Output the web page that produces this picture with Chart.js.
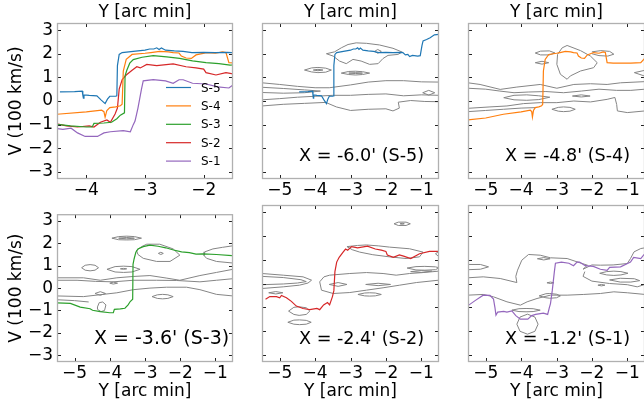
<!DOCTYPE html>
<html>
<head>
<meta charset="utf-8">
<script src="https://cdn.jsdelivr.net/npm/chart.js@4"></script>
<style>
  body { margin: 0; background: #fff; width: 644px; height: 406px; overflow: hidden; position: relative; }
  .cell { position: absolute; }
</style>
</head>
<body>
<script>
// ---- data: [Y (arc min), V (100 km/s)] ----
const seriesNames = ['S-5', 'S-4', 'S-3', 'S-2', 'S-1'];
const seriesColors = ['#1f77b4', '#ff7f0e', '#2ca02c', '#d62728', '#9467bd'];
const xTicksWide = [-5, -4, -3, -2, -1];
const xTicksZoom = [-4, -3, -2];
const yTicks = [-3, -2, -1, 0, 1, 2, 3];

const S5 = [[-4.45,0.39],[-4.2,0.4],[-4.07,0.42],[-4.06,0.25],[-4.05,0.12],[-4.04,0.26],[-3.95,0.24],[-3.82,0.22],[-3.75,0.05],[-3.68,-0.11],[-3.64,0.08],[-3.6,0.2],[-3.5,0.2],[-3.48,0.22],[-3.47,1.5],[-3.44,1.97],[-3.39,2.05],[-3.2,2.1],[-3.0,2.15],[-2.92,2.2],[-2.85,2.2],[-2.8,2.25],[-2.76,2.18],[-2.72,2.24],[-2.65,2.15],[-2.5,2.12],[-2.35,2.1],[-2.2,2.05],[-2.0,2.06],[-1.8,2.05],[-1.6,2.06],[-1.52,2.05],[-1.45,1.95],[-1.38,1.97],[-1.33,1.88],[-1.25,1.93],[-1.1,1.9],[-1.03,1.92],[-0.98,2.35],[-0.95,2.54],[-0.85,2.6],[-0.75,2.68],[-0.63,2.8],[-0.5,2.82]];
const S4 = [[-5.51,-0.8],[-5.0,-0.72],[-4.5,-0.56],[-4.0,-0.46],[-3.74,-0.39],[-3.7,-0.45],[-3.68,-0.68],[-3.65,-0.4],[-3.6,-0.28],[-3.5,-0.25],[-3.42,-0.2],[-3.39,-0.14],[-3.37,1.27],[-3.32,1.76],[-3.22,1.97],[-3.0,2.02],[-2.9,2.05],[-2.75,2.1],[-2.6,2.08],[-2.52,2.05],[-2.42,2.03],[-2.38,1.9],[-2.3,1.82],[-2.21,1.8],[-2.13,1.95],[-1.95,2.05],[-1.8,2.02],[-1.68,2.08],[-1.62,2.05],[-1.57,1.62],[-1.4,1.6],[-1.19,1.6],[-0.9,1.6],[-0.62,1.62],[-0.51,1.8]];
const S3 = [[-5.5,-0.66],[-5.12,-0.68],[-4.84,-0.85],[-4.56,-0.92],[-4.49,-0.99],[-4.27,-1.05],[-4.0,-1.1],[-3.9,-1.1],[-3.87,-0.95],[-3.7,-0.93],[-3.57,-0.9],[-3.48,-0.75],[-3.42,-0.6],[-3.35,-0.5],[-3.34,1.06],[-3.31,1.3],[-3.26,1.6],[-3.2,1.75],[-3.05,1.85],[-2.86,1.92],[-2.63,1.87],[-2.41,1.8],[-2.19,1.7],[-1.96,1.62],[-1.74,1.58],[-1.55,1.52],[-1.35,1.53],[-0.97,1.5],[-0.53,1.45]];
const S2 = [[-5.4,-0.66],[-5.28,-0.55],[-5.09,-0.55],[-5.0,-0.6],[-4.95,-0.5],[-4.81,-0.6],[-4.67,-0.75],[-4.53,-0.95],[-4.34,-1.05],[-4.15,-1.1],[-3.95,-1.05],[-3.87,-1.1],[-3.76,-0.9],[-3.65,-0.8],[-3.59,-0.9],[-3.51,-0.55],[-3.47,-0.3],[-3.44,0.5],[-3.39,0.9],[-3.32,1.1],[-3.22,1.3],[-3.14,1.45],[-3.08,1.4],[-2.97,1.55],[-2.8,1.5],[-2.52,1.57],[-2.3,1.45],[-2.13,1.4],[-2.0,1.35],[-1.96,1.2],[-1.79,1.1],[-1.62,1.2],[-1.5,1.15],[-1.3,1.05],[-1.05,1.25],[-0.77,1.35],[-0.51,1.35]];
const S1 = [[-5.51,-0.94],[-5.3,-0.72],[-5.07,-0.49],[-4.88,-0.5],[-4.78,-0.65],[-4.74,-1.0],[-4.71,-1.33],[-4.66,-1.2],[-4.49,-1.17],[-4.4,-1.2],[-4.26,-1.15],[-4.15,-1.35],[-4.02,-1.5],[-3.81,-1.5],[-3.7,-1.35],[-3.59,-1.3],[-3.37,-1.25],[-3.25,-1.3],[-3.2,-1.0],[-3.17,-0.85],[-3.12,-0.3],[-3.06,0.5],[-3.03,0.85],[-2.86,0.9],[-2.65,0.85],[-2.52,0.75],[-2.42,0.9],[-2.35,0.9],[-2.19,0.75],[-1.96,0.72],[-1.76,0.6],[-1.57,0.55],[-1.5,0.68],[-1.19,0.7],[-0.91,0.9],[-0.82,1.1],[-0.62,1.05],[-0.51,1.25]];

// gray contour lines behind each cut
const contoursS5 = [
  [[-3.68,2.0],[-3.45,2.08],[-3.26,2.25],[-3.07,2.39],[-2.84,2.46],[-2.55,2.44],[-2.18,2.37],[-1.8,2.23],[-1.54,2.07],[-1.66,1.97],[-1.94,1.93],[-2.08,1.8],[-2.22,1.58],[-2.46,1.55],[-2.7,1.69],[-2.93,1.76],[-3.12,1.58],[-3.31,1.69],[-3.49,1.9],[-3.68,2.0]],
  [[-2.32,2.1],[-2.23,2.18],[-2.13,2.1],[-2.23,2.02],[-2.32,2.1]],
  [[-4.3,1.31],[-4.1,1.4],[-3.92,1.42],[-3.7,1.39],[-3.54,1.31],[-3.7,1.22],[-3.92,1.2],[-4.1,1.23],[-4.3,1.31]],
  [[-4.05,1.31],[-3.92,1.34],[-3.78,1.31],[-3.92,1.28],[-4.05,1.31]],
  [[-3.26,1.18],[-3.05,1.25],[-2.86,1.26],[-2.66,1.24],[-2.46,1.18],[-2.66,1.12],[-2.86,1.1],[-3.05,1.12],[-3.26,1.18]],
  [[-3.05,1.18],[-2.86,1.2],[-2.66,1.18],[-2.86,1.16],[-3.05,1.18]],
  [[-5.5,0.77],[-5.0,0.7],[-4.5,0.62],[-4.0,0.56],[-3.6,0.56],[-3.0,0.68],[-2.5,0.8],[-2.0,0.86],[-1.5,0.86],[-1.0,0.81],[-0.5,0.8]],
  [[-5.5,0.58],[-4.9,0.53],[-4.3,0.47],[-3.85,0.42],[-4.3,0.35],[-4.9,0.33],[-5.5,0.36]],
  [[-5.5,0.05],[-5.0,0.1],[-4.5,0.16],[-4.0,0.2],[-3.5,0.24],[-3.0,0.24],[-2.5,0.28],[-2.0,0.3],[-1.5,0.22],[-1.0,0.26],[-0.5,0.24]],
  [[-5.5,-0.21],[-4.9,-0.14],[-4.3,-0.1],[-3.7,-0.06],[-3.4,-0.25],[-3.0,-0.4],[-2.5,-0.35],[-2.0,-0.33],[-1.8,-0.42],[-1.62,-0.3],[-1.65,-0.05],[-1.3,0.02],[-0.9,-0.02],[-0.5,-0.03]],
  [[-0.96,0.35],[-0.79,0.45],[-0.62,0.35],[-0.79,0.25],[-0.96,0.35]]
];
const contoursS4 = [
  [[-2.7,2.35],[-2.32,2.13],[-2.04,1.9],[-1.85,1.62],[-1.95,1.41],[-2.32,1.27],[-2.61,1.06],[-2.7,0.92],[-2.89,1.13],[-2.99,1.55],[-2.97,1.97],[-2.84,2.25],[-2.7,2.35]],
  [[-2.0,2.08],[-1.75,2.13],[-1.5,2.1],[-1.38,1.98],[-1.55,1.9],[-1.8,1.92],[-2.0,2.0]],
  [[-3.6,2.03],[-3.45,2.11],[-3.2,2.12],[-3.04,2.03],[-3.2,1.95],[-3.45,1.95],[-3.6,2.03]],
  [[-3.6,1.62],[-3.41,1.68],[-3.22,1.62],[-3.41,1.56],[-3.6,1.62]],
  [[-0.5,1.3],[-0.8,1.2],[-0.5,1.05]],
  [[-5.5,0.77],[-5.16,0.7],[-4.59,0.49],[-4.12,0.59],[-3.46,0.7],[-2.99,0.54],[-2.51,0.7],[-2.04,0.73],[-1.57,0.7],[-1.19,0.77],[-0.5,0.82]],
  [[-5.5,0.54],[-5.0,0.5],[-4.6,0.42],[-4.2,0.35],[-3.8,0.38],[-3.3,0.4],[-2.8,0.35],[-2.3,0.42],[-1.8,0.5],[-1.3,0.45],[-0.9,0.45],[-0.5,0.5]],
  [[-4.49,0.14],[-4.2,0.24],[-3.84,0.26],[-3.5,0.22],[-3.19,0.16],[-3.5,0.06],[-3.84,0.03],[-4.2,0.05],[-4.49,0.14]],
  [[-2.55,0.21],[-2.3,0.26],[-2.05,0.21],[-2.3,0.17],[-2.55,0.21]],
  [[-5.5,-0.31],[-4.88,-0.25],[-4.4,-0.21],[-3.93,-0.11],[-3.46,-0.07],[-2.99,-0.07],[-2.51,0.0],[-2.04,-0.04],[-1.57,0.07],[-1.35,0.15],[-1.3,-0.15],[-1.28,-0.42],[-1.0,-0.49],[-0.5,-0.42]],
  [[-5.5,-0.45],[-5.0,-0.4],[-4.5,-0.35],[-4.0,-0.3],[-3.6,-0.28]],
  [[-3.13,-0.35],[-2.95,-0.27],[-2.8,-0.25],[-2.62,-0.27],[-2.47,-0.35],[-2.62,-0.43],[-2.8,-0.45],[-2.95,-0.43],[-3.13,-0.35]]
];
const contoursS3 = [
  [[-3.94,2.23],[-3.75,2.3],[-3.52,2.32],[-3.3,2.3],[-3.1,2.23],[-3.3,2.16],[-3.52,2.15],[-3.75,2.16],[-3.94,2.23]],
  [[-3.75,2.23],[-3.52,2.26],[-3.3,2.23],[-3.52,2.2],[-3.75,2.23]],
  [[-3.24,1.68],[-3.1,1.85],[-2.95,1.96],[-2.58,1.96],[-2.2,1.75],[-2.01,1.47],[-2.29,1.19],[-2.67,1.19],[-3.05,1.33],[-3.2,1.5],[-3.24,1.68]],
  [[-2.62,1.55],[-2.55,1.6],[-2.48,1.55],[-2.55,1.5],[-2.62,1.55]],
  [[-0.5,1.89],[-0.8,1.82],[-1.07,1.75],[-1.3,1.62],[-1.32,1.45],[-1.25,1.33],[-0.97,1.19],[-0.5,1.12]],
  [[-4.8,0.91],[-4.7,1.02],[-4.56,1.05],[-4.42,1.02],[-4.32,0.91],[-4.42,0.8],[-4.56,0.77],[-4.7,0.8],[-4.8,0.91]],
  [[-4.08,0.84],[-3.85,0.96],[-3.61,0.98],[-3.37,0.96],[-3.14,0.84],[-3.37,0.72],[-3.61,0.7],[-3.85,0.72],[-4.08,0.84]],
  [[-3.7,0.86],[-3.61,0.88],[-3.52,0.86],[-3.61,0.84],[-3.7,0.86]],
  [[-5.5,0.46],[-4.75,0.46],[-4.27,0.35],[-3.8,0.46],[-3.33,0.52],[-2.86,0.56],[-2.4,0.45],[-2.01,0.35],[-1.44,0.56],[-0.97,0.7],[-0.5,0.84]],
  [[-5.5,0.35],[-4.93,0.35],[-4.4,0.3],[-3.9,0.28],[-3.33,0.35],[-2.67,0.35],[-2.1,0.34],[-1.44,0.28],[-0.97,0.35],[-0.5,0.42]],
  [[-5.5,-0.35],[-4.75,-0.38],[-4.3,-0.3],[-3.8,-0.21],[-3.33,-0.07],[-2.86,0.0],[-2.39,0.04],[-1.82,0.04],[-1.44,-0.07],[-0.97,-0.28],[-0.5,-0.35]],
  [[-4.0,0.22],[-3.9,0.27],[-3.78,0.22],[-3.9,0.18],[-4.0,0.22]],
  [[-2.8,-0.38],[-2.65,-0.3],[-2.5,-0.28],[-2.35,-0.3],[-2.2,-0.38],[-2.35,-0.46],[-2.5,-0.48],[-2.65,-0.46],[-2.8,-0.38]],
  [[-4.42,-0.24],[-4.27,-0.16],[-4.12,-0.24],[-4.27,-0.32],[-4.42,-0.24]],
  [[-4.35,-0.84],[-4.3,-0.65],[-4.2,-0.62],[-4.11,-0.75],[-4.15,-1.0],[-4.25,-1.05],[-4.35,-0.95],[-4.35,-0.84]],
  [[-5.5,-0.52],[-5.0,-0.56],[-4.6,-0.62]]
];
const contoursS2 = [
  [[-1.77,2.51],[-1.65,2.58],[-1.43,2.58],[-1.31,2.51],[-1.43,2.44],[-1.65,2.44],[-1.77,2.51]],
  [[-1.6,2.51],[-1.54,2.53],[-1.48,2.51],[-1.54,2.49],[-1.6,2.51]],
  [[-3.1,1.55],[-2.8,1.6],[-2.55,1.62],[-2.2,1.58],[-1.9,1.53],[-1.33,1.46],[-0.95,1.32],[-1.05,1.12],[-1.43,1.05],[-1.9,1.12],[-2.37,1.21],[-2.74,1.32],[-2.95,1.42],[-3.1,1.55]],
  [[-0.5,1.35],[-0.6,1.25],[-0.5,1.12]],
  [[-1.4,0.65],[-1.15,0.71],[-0.9,0.72],[-0.6,0.7],[-0.5,0.66],[-0.6,0.58],[-0.9,0.56],[-1.15,0.57],[-1.4,0.65]],
  [[-1.3,0.5],[-1.0,0.54],[-0.7,0.52],[-1.0,0.46],[-1.3,0.5]],
  [[-5.5,0.42],[-4.9,0.35],[-4.34,0.28],[-4.1,0.14],[-4.2,0.02],[-4.44,-0.07],[-4.9,-0.14],[-5.5,-0.21]],
  [[-5.5,0.3],[-4.9,0.25],[-4.4,0.16],[-4.25,0.08],[-4.5,0.02],[-4.9,-0.02],[-5.5,-0.05]],
  [[-3.87,0.07],[-3.75,0.28],[-3.59,0.35],[-3.02,0.42],[-2.55,0.46],[-2.08,0.42],[-1.71,0.35],[-1.33,0.42],[-0.95,0.46],[-0.5,0.52]],
  [[-3.87,0.07],[-3.82,-0.28],[-3.49,-0.42],[-3.02,-0.38],[-2.55,-0.28],[-2.08,-0.18],[-1.61,-0.07],[-1.14,0.04],[-0.5,0.14]],
  [[-3.6,-0.04],[-3.35,0.04],[-3.1,-0.04],[-3.35,-0.12],[-3.6,-0.04]],
  [[-2.57,-0.04],[-2.22,0.01],[-1.87,-0.04],[-2.22,-0.09],[-2.57,-0.04]],
  [[-2.79,-0.46],[-2.6,-0.4],[-2.46,-0.39],[-2.3,-0.4],[-2.13,-0.46],[-2.3,-0.52],[-2.46,-0.53],[-2.6,-0.52],[-2.79,-0.46]],
  [[-5.31,-0.39],[-5.11,-0.34],[-4.91,-0.39],[-5.11,-0.44],[-5.31,-0.39]],
  [[-4.75,-1.16],[-4.6,-1.0],[-4.45,-0.98],[-4.25,-1.02],[-4.15,-1.16],[-4.25,-1.3],[-4.45,-1.34],[-4.6,-1.3],[-4.75,-1.16]],
  [[-4.77,-1.63],[-4.6,-1.54],[-4.44,-1.53],[-4.25,-1.55],[-4.11,-1.63],[-4.25,-1.71],[-4.44,-1.73],[-4.6,-1.71],[-4.77,-1.63]]
];
const contoursS1 = [
  [[-5.5,0.8],[-5.15,0.8],[-4.92,0.7],[-5.15,0.6],[-5.5,0.58]],
  [[-5.5,0.24],[-5.07,0.28],[-4.59,0.21],[-4.12,0.04],[-4.15,0.3],[-4.1,0.56],[-3.98,0.98],[-3.79,1.22],[-3.46,1.19],[-3.17,1.08],[-2.7,1.05],[-2.42,0.91],[-2.13,0.77],[-2.25,0.6],[-2.0,0.78],[-1.76,0.77],[-1.4,0.78],[-1.0,0.84],[-0.91,1.05],[-0.81,1.33],[-0.62,1.47],[-0.5,1.5]],
  [[-5.5,-0.49],[-5.07,-0.46],[-4.78,-0.56],[-4.4,-0.77],[-4.02,-0.91],[-3.83,-0.77],[-3.55,-0.63],[-3.17,-0.49],[-2.7,-0.49],[-2.23,-0.46],[-1.76,-0.42],[-1.38,-0.35],[-1.0,-0.39],[-0.5,-0.46]],
  [[-4.26,-1.12],[-4.06,-1.06],[-3.86,-1.05],[-3.66,-1.06],[-3.46,-1.12],[-3.66,-1.18],[-3.86,-1.19],[-4.06,-1.18],[-4.26,-1.12]],
  [[-4.12,-1.71],[-4.03,-1.41],[-3.82,-1.29],[-3.61,-1.41],[-3.52,-1.71],[-3.61,-2.01],[-3.82,-2.13],[-4.03,-2.01],[-4.12,-1.71]],
  [[-3.54,1.04],[-3.36,1.09],[-3.18,1.04],[-3.36,0.99],[-3.54,1.04]],
  [[-3.27,0.03],[-3.17,0.06],[-3.07,0.03],[-3.17,0.0],[-3.27,0.03]],
  [[-3.49,-0.52],[-3.3,-0.43],[-3.19,-0.42],[-3.0,-0.45],[-2.89,-0.52],[-3.0,-0.6],[-3.19,-0.62],[-3.3,-0.6],[-3.49,-0.52]],
  [[-1.78,0.43],[-1.58,0.5],[-1.38,0.52],[-1.18,0.5],[-0.98,0.43],[-1.18,0.36],[-1.38,0.34],[-1.58,0.36],[-1.78,0.43]],
  [[-1.83,-0.07],[-1.73,-0.04],[-1.63,-0.07],[-1.73,-0.1],[-1.83,-0.07]],
  [[-1.5,0.15],[-1.2,0.22],[-0.8,0.2],[-0.65,0.12],[-0.9,0.06],[-1.2,0.06],[-1.5,0.15]],
  [[-2.2,0.5],[-2.25,0.3],[-2.0,0.1],[-1.5,0.0],[-1.0,-0.05],[-0.72,-0.14],[-0.5,-0.04]]
];

const allSeries = [S5, S4, S3, S2, S1];
const panels = [
  { col: 0, row: 0, xMin: -4.5, xMax: -1.5, xTicks: xTicksZoom, series: [0, 1, 2, 3, 4], contours: [], legend: true },
  { col: 1, row: 0, xMin: -5.5, xMax: -0.5, xTicks: xTicksWide, series: [0], contours: contoursS5, note: "X = -6.0' (S-5)" },
  { col: 2, row: 0, xMin: -5.5, xMax: -0.5, xTicks: xTicksWide, series: [1], contours: contoursS4, note: "X = -4.8' (S-4)" },
  { col: 0, row: 1, xMin: -5.5, xMax: -0.5, xTicks: xTicksWide, series: [2], contours: contoursS3, note: "X = -3.6' (S-3)", noteSize: 19 },
  { col: 1, row: 1, xMin: -5.5, xMax: -0.5, xTicks: xTicksWide, series: [3], contours: contoursS2, note: "X = -2.4' (S-2)" },
  { col: 2, row: 1, xMin: -5.5, xMax: -0.5, xTicks: xTicksWide, series: [4], contours: contoursS1, note: "X = -1.2' (S-1)" }
];

const cols = [
  { left: 0, width: 245, yw: 57, pr: 12 },
  { left: 245, width: 200, yw: 17, pr: 6 },
  { left: 445, width: 200, yw: 23, pr: 0 }
];
const rows = [
  { top: 0, height: 200, tt: 23, pt: 0, bh: 21 },
  { top: 200, height: 206, tt: 0, pt: 5, bh: 44 }
];

const FONT = 'DejaVu Sans';
const minus = v => String(v).replace('-', '\u2212');
const toXY = pts => pts.map(([x, y]) => ({ x: x, y: y }));

// frame, inward ticks on four sides, note text and legend
const framePlugin = {
  id: 'frame',
  afterDatasetsDraw(chart, args, opts) {
    const { ctx, chartArea: a } = chart;
    const x = chart.scales.x, y = chart.scales.y;
    ctx.save();
    ctx.strokeStyle = '#222';
    ctx.lineWidth = 1;
    ctx.beginPath();
    x.ticks.forEach(t => {
      const px = Math.round(x.getPixelForValue(t.value)) + 0.5;
      ctx.moveTo(px, a.bottom); ctx.lineTo(px, a.bottom - 4);
      ctx.moveTo(px, a.top); ctx.lineTo(px, a.top + 4);
    });
    y.ticks.forEach(t => {
      const py = Math.round(y.getPixelForValue(t.value)) + 0.5;
      ctx.moveTo(a.left, py); ctx.lineTo(a.left + 4, py);
      ctx.moveTo(a.right, py); ctx.lineTo(a.right - 4, py);
    });
    ctx.stroke();
    ctx.strokeStyle = '#b0b0b0';
    ctx.lineWidth = 1.3;
    ctx.strokeRect(a.left + 0.5, a.top + 0.5, a.width - 1, a.height - 1);

    if (opts.note) {
      ctx.fillStyle = '#000';
      ctx.font = (opts.noteSize || 17.6) + 'px "' + FONT + '"';
      ctx.textAlign = 'left';
      ctx.textBaseline = 'alphabetic';
      ctx.fillText(opts.note, a.left + 37, a.bottom - 18);
    }
    if (opts.legend) {
      ctx.font = '12px "' + FONT + '"';
      ctx.textBaseline = 'middle';
      ctx.textAlign = 'left';
      chart.data.datasets.filter(d => d.label).forEach((d, i) => {
        const ly = a.top + 64.5 + i * 18.4;
        ctx.strokeStyle = d.borderColor;
        ctx.lineWidth = 1.2;
        ctx.beginPath();
        ctx.moveTo(a.left + 109, ly); ctx.lineTo(a.left + 134, ly);
        ctx.stroke();
        ctx.fillStyle = '#000';
        ctx.fillText(d.label, a.left + 144, ly + 1);
      });
    }
    ctx.restore();
  }
};

panels.forEach(p => {
  const c = cols[p.col], r = rows[p.row];
  const box = document.createElement('div');
  box.className = 'cell';
  box.style.left = c.left + 'px';
  box.style.top = r.top + 'px';
  box.style.width = c.width + 'px';
  box.style.height = r.height + 'px';
  const cv = document.createElement('canvas');
  box.appendChild(cv);
  document.body.appendChild(box);

  const datasets = [];
  p.series.forEach(i => datasets.push({
    label: seriesNames[i], data: toXY(allSeries[i]), borderColor: seriesColors[i],
    borderWidth: 1.2, pointRadius: 0, tension: 0
  }));
  p.contours.forEach(line => datasets.push({
    data: toXY(line), borderColor: '#858585', borderWidth: 1, pointRadius: 0, tension: 0
  }));

  const tickFont = { family: FONT, size: 17 };
  const scales = {
    x: {
      type: 'linear', position: 'bottom', min: p.xMin, max: p.xMax,
      afterBuildTicks: s => { s.ticks = p.xTicks.map(v => ({ value: v })); },
      grid: { display: false, drawTicks: false }, border: { display: false },
      ticks: { color: '#000', font: tickFont, padding: 1, maxRotation: 0, autoSkip: false, callback: v => minus(v) },
      title: { display: p.row === 1, text: 'Y [arc min]', color: '#000', font: tickFont, padding: { top: 0, bottom: 4 } },
      afterFit: s => { s.height = r.bh; }
    },
    y: {
      type: 'linear', min: -3.3, max: 3.3,
      afterBuildTicks: s => { s.ticks = yTicks.map(v => ({ value: v })); },
      grid: { display: false, drawTicks: false }, border: { display: false },
      ticks: { display: p.col === 0, color: '#000', font: tickFont, padding: 4, autoSkip: false, callback: v => minus(v) },
      title: { display: p.col === 0, text: 'V (100 km/s)', color: '#000', font: tickFont, padding: { top: 6, bottom: 0 } },
      afterFit: s => { s.width = c.yw; }
    }
  };
  if (p.row === 0) {
    scales.xt = {
      type: 'linear', axis: 'x', position: 'top', min: p.xMin, max: p.xMax,
      grid: { display: false, drawTicks: false }, border: { display: false },
      ticks: { display: false },
      title: { display: true, text: 'Y [arc min]', color: '#000', font: tickFont, padding: { top: 2, bottom: 0 } },
      afterFit: s => { s.height = r.tt; }
    };
  }

  new Chart(cv, {
    type: 'line',
    data: { datasets: datasets },
    options: {
      responsive: true,
      maintainAspectRatio: false,
      animation: false,
      events: [],
      layout: { padding: { left: 0, right: c.pr, top: r.pt, bottom: 0 } },
      scales: scales,
      plugins: {
        legend: { display: false },
        tooltip: { enabled: false },
        frame: { note: p.note, noteSize: p.noteSize, legend: !!p.legend }
      }
    },
    plugins: [framePlugin]
  });
});
</script>
</body>
</html>
